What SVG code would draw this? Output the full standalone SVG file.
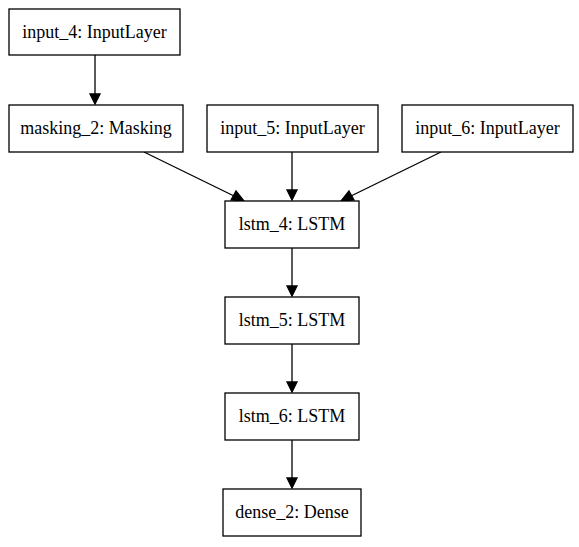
<svg xmlns="http://www.w3.org/2000/svg" width="579" height="547" viewBox="0 0 579 547">
<defs>
<style>
.box{fill:#ffffff;stroke:#000000;stroke-width:1.3}
.lbl{font-family:"Liberation Serif","Times New Roman",serif;font-size:18px;fill:#000000;text-anchor:middle}
.edge{stroke:#000000;stroke-width:1.3;fill:none}
.head{fill:#000000;stroke:#000000;stroke-width:1.3}
</style>
</defs>
<rect width="579" height="547" fill="#ffffff"/>
<g id="connectors">
<line class="edge" x1="95" y1="55" x2="95" y2="94"/>
<polygon class="head" points="90,94 100,94 95,104"/>
<line class="edge" x1="144" y1="152" x2="234" y2="196"/>
<polygon class="head" points="231,200 236,191 244,201"/>
<line class="edge" x1="292" y1="152" x2="292" y2="190"/>
<polygon class="head" points="287,190 297,190 292,200"/>
<line class="edge" x1="441" y1="152" x2="351" y2="196"/>
<polygon class="head" points="349,191 354,200 341,201"/>
<line class="edge" x1="292" y1="248" x2="292" y2="286"/>
<polygon class="head" points="287,286 297,286 292,296"/>
<line class="edge" x1="292" y1="344" x2="292" y2="382"/>
<polygon class="head" points="287,382 297,382 292,392"/>
<line class="edge" x1="292" y1="440" x2="292" y2="478"/>
<polygon class="head" points="287,478 297,478 292,488"/>
</g>
<g id="input_4">
<rect class="box" x="9" y="9" width="171" height="46"/>
<text class="lbl" x="94.5" y="38">input_4: InputLayer</text>
</g>
<g id="masking_2">
<rect class="box" x="9" y="105" width="174" height="47"/>
<text class="lbl" x="96" y="134">masking_2: Masking</text>
</g>
<g id="input_5">
<rect class="box" x="207" y="105" width="171" height="47"/>
<text class="lbl" x="292.5" y="134">input_5: InputLayer</text>
</g>
<g id="input_6">
<rect class="box" x="402" y="105" width="171" height="47"/>
<text class="lbl" x="487.5" y="134">input_6: InputLayer</text>
</g>
<g id="lstm_4">
<rect class="box" x="225" y="201" width="134" height="47"/>
<text class="lbl" x="292" y="230">lstm_4: LSTM</text>
</g>
<g id="lstm_5">
<rect class="box" x="225" y="297" width="134" height="47"/>
<text class="lbl" x="292" y="326">lstm_5: LSTM</text>
</g>
<g id="lstm_6">
<rect class="box" x="225" y="393" width="134" height="47"/>
<text class="lbl" x="292" y="422">lstm_6: LSTM</text>
</g>
<g id="dense_2">
<rect class="box" x="223" y="489" width="138" height="47"/>
<text class="lbl" x="292" y="518">dense_2: Dense</text>
</g>
</svg>
